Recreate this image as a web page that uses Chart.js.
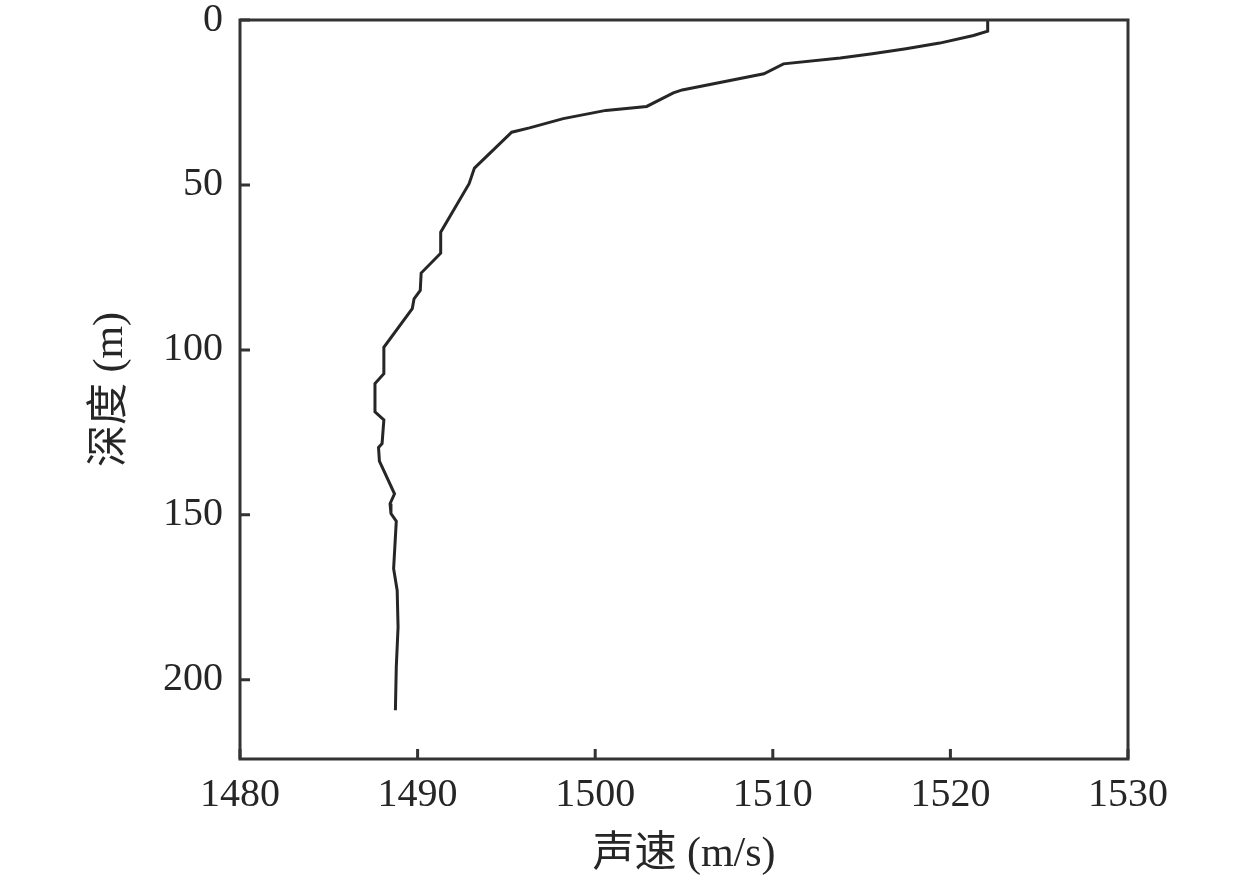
<!DOCTYPE html>
<html>
<head>
<meta charset="utf-8">
<script src="https://cdn.jsdelivr.net/npm/chart.js@4"></script>
<style>
  html, body { margin: 0; padding: 0; background: #fff; }
  #wrap { width: 1260px; height: 880px; }
</style>
</head>
<body>
<div id="wrap"><canvas id="c" width="1260" height="880"></canvas></div>
<script>
/* Sound speed profile: speed (m/s) vs depth (m), depth axis pointing down. */

// top to bottom
const depth = [0, 3.4, 4.7, 7.0, 8.7, 10.2, 11.5, 13.3, 16.3, 21.2, 22.1, 26.2, 27.4, 29.9, 32.7, 34.0,
  44.9, 49.6, 64.3, 70.7, 76.7, 82.0, 84.5, 87.5, 99.2, 107.2, 110.2, 118.8, 121.2, 128.4, 129.6,
  133.7, 143.6, 146.6, 149.6, 151.9, 166.3, 172.9, 184.0, 196.1, 209.2];
const speed = [1522.1, 1522.1, 1521.3, 1519.4, 1517.5, 1515.6, 1513.8, 1510.6, 1509.5, 1504.9, 1504.4, 1502.9,
  1500.6, 1498.2, 1496.3, 1495.3, 1493.2, 1492.9, 1491.3, 1491.3, 1490.2, 1490.15, 1489.8, 1489.7, 1488.1,
  1488.1, 1487.6, 1487.6, 1488.1, 1488.0, 1487.8, 1487.85, 1488.7, 1488.45, 1488.5, 1488.8, 1488.65,
  1488.85, 1488.9, 1488.8, 1488.75];

const xTicks = [1480, 1490, 1500, 1510, 1520, 1530];
const yTicks = [0, 50, 100, 150, 200];
const xTitle = '声速 (m/s)';
const yTitle = '深度 (m)';

const INK = '#262626';
const SERIF = '"Liberation Serif", "Noto Sans CJK SC", serif';

// frame box + inward ticks on the bottom and left edges
const framePlugin = {
  id: 'frame',
  afterDraw(chart) {
    const { ctx, chartArea: a, scales } = chart;
    ctx.save();
    ctx.strokeStyle = '#333';
    ctx.lineWidth = 3;
    ctx.strokeRect(a.left, a.top, a.right - a.left, a.bottom - a.top);
    ctx.beginPath();
    xTicks.forEach((v) => {
      const px = scales.x.getPixelForValue(v);
      ctx.moveTo(px, a.bottom);
      ctx.lineTo(px, a.bottom - 10);
    });
    yTicks.forEach((v) => {
      const py = scales.y.getPixelForValue(v);
      ctx.moveTo(a.left, py);
      ctx.lineTo(a.left + 10, py);
    });
    ctx.stroke();
    ctx.restore();
  },
};

new Chart(document.getElementById('c'), {
  type: 'scatter',
  data: {
    datasets: [{
      data: depth.map((d, i) => ({ x: speed[i], y: d })),
      showLine: true,
      borderColor: INK,
      borderWidth: 3,
      pointRadius: 0,
      tension: 0,
      clip: false,
    }],
  },
  options: {
    responsive: false,
    animation: false,
    layout: { padding: { top: 20, right: 132, left: 0, bottom: 0 } },
    plugins: { legend: { display: false }, tooltip: { enabled: false } },
    scales: {
      x: {
        type: 'linear',
        min: 1480, max: 1530,
        afterBuildTicks: (s) => { s.ticks = xTicks.map((v) => ({ value: v })); },
        afterFit: (s) => { s.height = 121; s.paddingLeft = 0; s.paddingRight = 0; },
        grid: { display: false, drawTicks: false },
        border: { display: false },
        ticks: { color: INK, padding: 12, font: { family: SERIF, size: 40 }, callback: (v) => String(v) },
        title: { display: true, text: xTitle, color: INK, padding: { top: 4, bottom: 0 },
          font: { family: SERIF, size: 42 } },
      },
      y: {
        type: 'linear',
        reverse: true,
        min: 0, max: 224,
        afterBuildTicks: (s) => { s.ticks = yTicks.map((v) => ({ value: v })); },
        afterFit: (s) => { s.width = 240; s.paddingTop = 0; s.paddingBottom = 0; },
        grid: { display: false, drawTicks: false },
        border: { display: false },
        ticks: { color: INK, padding: 17, font: { family: SERIF, size: 40 }, callback: (v) => String(v) },
        title: { display: true, text: yTitle, color: INK, padding: { top: 86, bottom: 0 },
          font: { family: SERIF, size: 42 } },
      },
    },
  },
  plugins: [framePlugin],
});
</script>
</body>
</html>
